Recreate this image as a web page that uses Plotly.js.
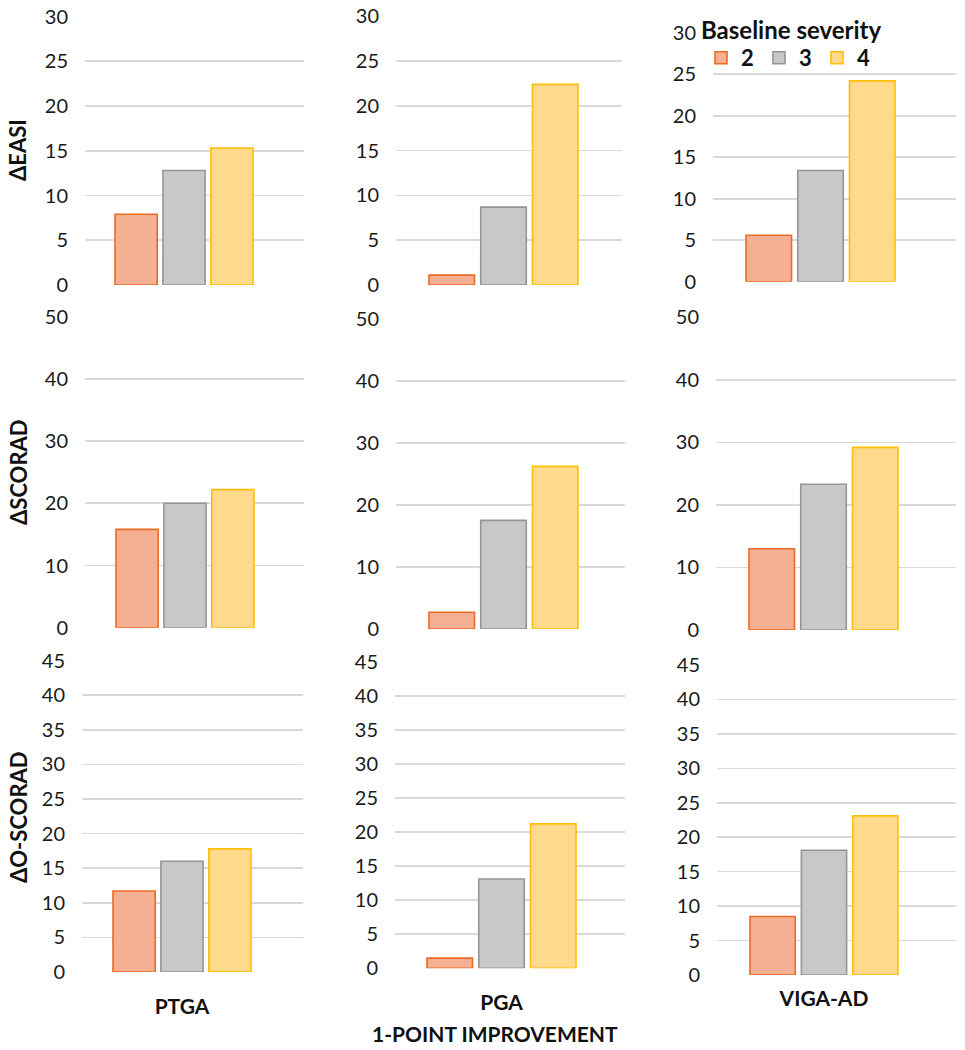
<!DOCTYPE html>
<html>
<head>
<meta charset="utf-8">
<script src="https://cdn.plot.ly/plotly-3.0.1.min.js"></script>
<style>html,body{margin:0;padding:0;background:#fff;}#chart{width:965px;height:1050px;}</style>
</head>
<body>
<div id="chart"></div>
<script>
// ---- data ----
const categories = ['PTGA', 'PGA', 'VIGA-AD'];
const severities = ['2', '3', '4'];
const metricNames = ['ΔEASI', 'ΔSCORAD', 'ΔO-SCORAD'];
const axisMax = [30, 50, 45];
const axisStep = [5, 10, 5];

const easiSev2 = [7.9, 1.1, 5.6];
const easiSev3 = [12.8, 8.7, 13.4];
const easiSev4 = [15.3, 22.4, 24.2];

const scoradSev2 = [15.8, 2.7, 13.0];
const scoradSev3 = [20.0, 17.5, 23.3];
const scoradSev4 = [22.2, 26.2, 29.2];

const oscoradSev2 = [11.7, 1.5, 8.5];
const oscoradSev3 = [16.0, 13.1, 18.1];
const oscoradSev4 = [17.8, 21.2, 23.1];

const legendTitle = 'Baseline severity';
const xTitle = '1-POINT IMPROVEMENT';

// ---- styling / layout ----
const W = 965, H = 1050;
const fills = ['#F5B093', '#C8C8C8', '#FFD98C'];
const lines = ['#EC6A22', '#959595', '#FFBE0A'];
const FONT = 'Lato, "Open Sans", sans-serif';
const BARGAP = 0.35, GROUPGAP = 0.12;

const metrics = [
  [easiSev2, easiSev3, easiSev4],
  [scoradSev2, scoradSev3, scoradSev4],
  [oscoradSev2, oscoradSev3, oscoradSev4]
];

// pixel boxes per panel: [x0, x1, yTop, yBottom, groupLeft, groupRight]
const boxes = [
  [[85, 304, 16.5, 285, 115, 253], [396, 622, 16.3, 285, 429, 578], [713, 956, 32.7, 281.7, 746, 895]],
  [[85, 304, 316.7, 627.7, 116, 254], [396, 625, 318.7, 629, 429, 578], [716, 956, 317.3, 630, 749, 898]],
  [[82, 303, 660.7, 972, 113, 251], [395, 625, 661.7, 968.3, 427, 576], [717, 956, 665, 975, 750, 898]]
];
const tickStandoff = [20, 20, 9];

const data = [];
const layout = {
  width: W, height: H,
  margin: {l: 0, r: 0, t: 0, b: 0},
  paper_bgcolor: '#fff', plot_bgcolor: 'rgba(0,0,0,0)',
  barmode: 'group', bargap: BARGAP, bargroupgap: GROUPGAP,
  font: {family: FONT, color: '#1a1a1a', size: 20},
  showlegend: true,
  legend: {
    orientation: 'h',
    x: 701 / W, y: 1 - 37 / H, xanchor: 'left', yanchor: 'top',
    bgcolor: 'rgba(255,255,255,0)',
    font: {family: FONT, size: 22, weight: 'bold', color: '#111'},
    itemwidth: 30,
    entrywidth: 13, entrywidthmode: 'pixels',
    tracegroupgap: 0
  },
  annotations: []
};

for (let r = 0; r < 3; r++) {
  for (let c = 0; c < 3; c++) {
    const idx = r * 3 + c + 1;
    const sfx = idx === 1 ? '' : String(idx);
    const [x0, x1, yT, yB, g0, g1] = boxes[r][c];
    for (let s = 0; s < 3; s++) {
      data.push({
        type: 'bar',
        x: [categories[c]],
        y: [metrics[r][s][c]],
        name: severities[s],
        legendgroup: severities[s],
        showlegend: idx === 1,
        marker: {color: fills[s], line: {color: lines[s], width: 1.6}},
        xaxis: 'x' + sfx, yaxis: 'y' + sfx,
        hovertemplate: metricNames[r] + ' %{x}: %{y}<extra>' + severities[s] + '</extra>'
      });
    }
    const vis = g1 - g0;
    const slot = vis / (3 - GROUPGAP);
    const unit = 3 * slot / (1 - BARGAP);
    const cen = (g0 + g1) / 2;
    layout['xaxis' + sfx] = {
      domain: [x0 / W, x1 / W],
      anchor: 'y' + sfx,
      type: 'category',
      range: [-(cen - x0) / unit, (x1 - cen) / unit],
      showgrid: false, zeroline: false, showline: false, ticks: '',
      showticklabels: r === 2,
      ticklabelstandoff: tickStandoff[c],
      tickfont: {family: FONT, size: 21, weight: 'bold', color: '#111'},
      fixedrange: true
    };
    layout['yaxis' + sfx] = {
      domain: [1 - yB / H, 1 - yT / H],
      anchor: 'x' + sfx,
      range: [0, axisMax[r]],
      dtick: axisStep[r], tick0: 0,
      showgrid: true, gridcolor: '#D9D9D9', gridwidth: 1.6,
      zeroline: false, showline: false, ticks: '',
      ticklabelstandoff: 16,
      tickfont: {family: FONT, size: 20, color: '#1a1a1a'},
      fixedrange: true
    };
  }
}

// row titles (rotated)
const rowTitleY = [150, 472, 817];
for (let r = 0; r < 3; r++) {
  layout.annotations.push({
    text: metricNames[r], textangle: -90,
    xref: 'paper', yref: 'paper', x: 18 / W, y: 1 - rowTitleY[r] / H,
    xanchor: 'center', yanchor: 'middle', showarrow: false,
    font: {family: FONT, size: 22, weight: 'bold', color: '#111'}
  });
}
layout.annotations.push({
  text: legendTitle, xref: 'paper', yref: 'paper', x: 699 / W, y: 1 - 29 / H,
  xanchor: 'left', yanchor: 'middle', showarrow: false,
  font: {family: FONT, size: 24, weight: 'bold', color: '#111'}
});
layout.annotations.push({
  text: xTitle, xref: 'paper', yref: 'paper', x: 495 / W, y: 1 - 1033 / H,
  xanchor: 'center', yanchor: 'middle', showarrow: false,
  font: {family: FONT, size: 21, weight: 'bold', color: '#111'}
});

Plotly.newPlot('chart', data, layout, {displayModeBar: false, staticPlot: true});
</script>
</body>
</html>
